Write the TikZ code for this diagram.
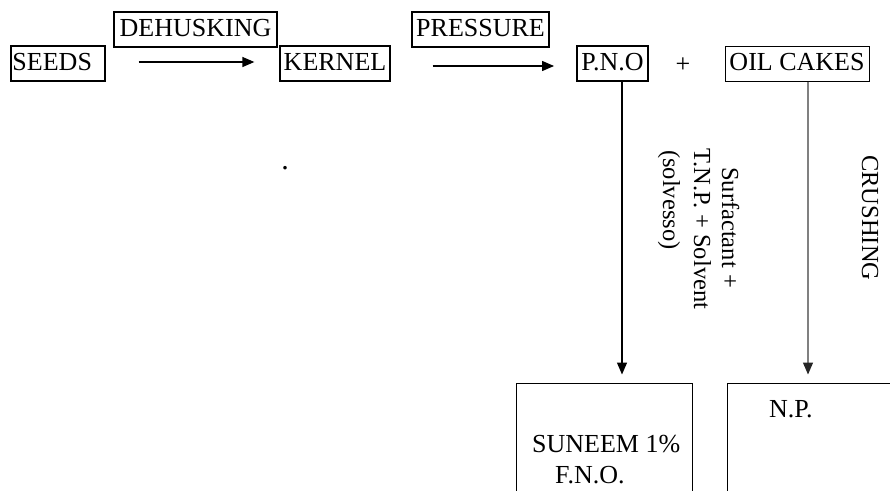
\documentclass[tikz,border=0pt]{standalone}
\usepackage{fontspec}
\setmainfont{Liberation Serif}
\usetikzlibrary{arrows.meta}
\begin{document}
\begin{tikzpicture}[x=1pt,y=-1pt,
  box/.style={draw, inner sep=0pt, text height=18pt, text depth=5pt, minimum height=35pt, font=\fontsize{26}{28}\selectfont},
  thin/.style={line width=1pt},
  thick/.style={line width=1.9pt},
  mid/.style={line width=1.3pt},
  big/.style={font=\fontsize{26}{28}\selectfont, inner sep=0pt},
  rot/.style={font=\fontsize{24.5}{26}\selectfont, inner sep=0pt, rotate=-90, anchor=base west},
  arr/.style={line width=1.3pt, -{Triangle[length=12pt,width=10pt]}},
  outbox/.style={draw, line width=1pt, minimum width=#1, minimum height=147pt, inner sep=0pt}]
\useasboundingbox (0,0) rectangle (890,490);
\clip (0,0) rectangle (890,490);

\node[box, mid, minimum width=94pt, text width=91pt, align=left] (seeds) at (58,63.5) {SEEDS};
\node[box, thick, minimum width=163pt] (dehusk) at (195.5,29.5) {DEHUSKING};
\node[box, mid, minimum width=110pt] (kernel) at (335,63.5) {KERNEL};
\node[box, thick, minimum width=137pt] (pressure) at (480.5,29.5) {PRESSURE};
\node[box, thick, minimum width=71pt] (pno) at (612.5,63.5) {P.N.O};
\node[big] (plus) at (683,65) {+};
\node[box, thin, minimum width=144pt] (oil) at (797,63.5) {OIL CAKES};

\node[font=\fontsize{30}{30}\selectfont, inner sep=0pt, anchor=base] (dot) at (285,169.5) {.};

\node[outbox=176pt] (fno) at (604,456.5) {};
\node[outbox=180pt] (np) at (817,456.5) {};

\node[big, anchor=base west] (suneem) at (532,452) {SUNEEM 1\%};
\node[big, anchor=base west] (fnotxt) at (555,483) {F.N.O.};
\node[big, anchor=base west] (nptxt) at (769,417) {N.P.};

\node[rot] (l1) at (722,167) {Surfactant +};
\node[rot] (l2) at (694,148) {T.N.P. + Solvent};
\node[rot] (l3) at (663,150) {(solvesso)};
\node[rot] (crush) at (862,155) {CRUSHING};

\draw[arr] ([xshift=33pt,yshift=1.5pt]seeds.east) -- ([xshift=-25pt,yshift=1.5pt]kernel.west);
\draw[arr] ([xshift=42pt,yshift=-2.5pt]kernel.east) -- ([xshift=-22pt,yshift=-2.5pt]pno.west);
\draw[arr, shorten >=8pt] ([xshift=9.5pt]pno.south) -- ([xshift=9.5pt]pno.south |- fno.north);
\draw[line width=1.3pt, black!50, -{Triangle[length=12pt,width=10pt,color=black!85]}, shorten >=8pt] ([xshift=11pt]oil.south) -- ([xshift=11pt]oil.south |- np.north);
\end{tikzpicture}
\end{document}
